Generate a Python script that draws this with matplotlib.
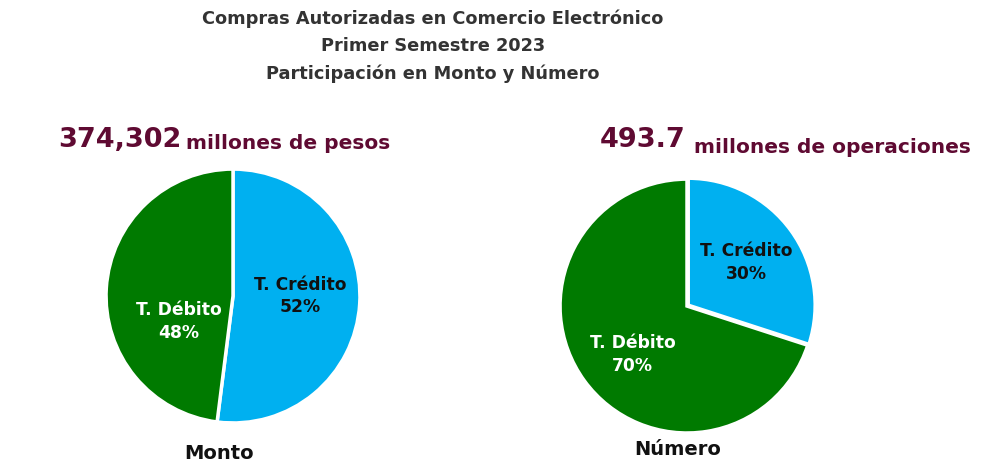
import matplotlib
matplotlib.use('Agg')
import matplotlib.pyplot as plt

# Datos
categorias = ['T. Crédito', 'T. Débito']
monto = [52, 48]
numero = [30, 70]
total_monto = '374,302'
total_numero = '493.7'
colores = ['#00B0F0', '#007A00']
color_texto = ['#111111', '#FFFFFF']

plt.rcParams['font.family'] = ['DejaVu Sans']

fig = plt.figure(figsize=(10, 4.71), dpi=100)
fig.patch.set_facecolor('white')

# Titulo
fig.text(0.433, 0.979, 'Compras Autorizadas en Comercio Electrónico\nPrimer Semestre 2023\nParticipación en Monto y Número',
         ha='center', va='top', fontsize=12.8, fontweight='bold', color='#333333', linespacing=1.62)


def pastel(rect, valores, explode, pos_etq, titulo, pos_tit):
    ax = fig.add_axes(rect)
    ax.pie(valores, colors=colores, startangle=90, counterclock=False, explode=explode,
           wedgeprops=dict(edgecolor='white', linewidth=2.5))
    for cat, val, col, (x, y) in zip(categorias, valores, color_texto, pos_etq):
        ax.text(x, y, f'{cat}\n{val}%', ha='center', va='center', fontsize=12.3,
                fontweight='bold', color=col, linespacing=1.35)
    ax.set_xlim(-1, 1)
    ax.set_ylim(-1, 1)
    ax.set_aspect('equal')
    ax.axis('off')
    fig.text(pos_tit[0], pos_tit[1], titulo, ha='center', va='center', fontsize=14,
             fontweight='bold', color='#111111')
    return ax


pastel([0.106, 0.102, 0.254, 0.539], monto, [0.0, 0.0],
       [(0.53, 0.0), (-0.43, -0.2)], 'Monto', (0.219, 0.038))
pastel([0.560, 0.0807, 0.254, 0.539], numero, [0.012, 0.0],
       [(0.47, 0.34), (-0.43, -0.38)], 'Número', (0.678, 0.046))

# Totales
fig.text(0.058, 0.688, total_monto, ha='left', va='baseline', fontsize=19.5,
         fontweight='bold', color='#5F0A32')
fig.text(0.186, 0.684, 'millones de pesos', ha='left', va='baseline', fontsize=14.5,
         fontweight='bold', color='#5F0A32')
fig.text(0.600, 0.688, total_numero, ha='left', va='baseline', fontsize=19.5,
         fontweight='bold', color='#5F0A32')
fig.text(0.694, 0.675, 'millones de operaciones', ha='left', va='baseline', fontsize=14.5,
         fontweight='bold', color='#5F0A32')

fig.savefig('out.png', dpi=100, facecolor='white')
